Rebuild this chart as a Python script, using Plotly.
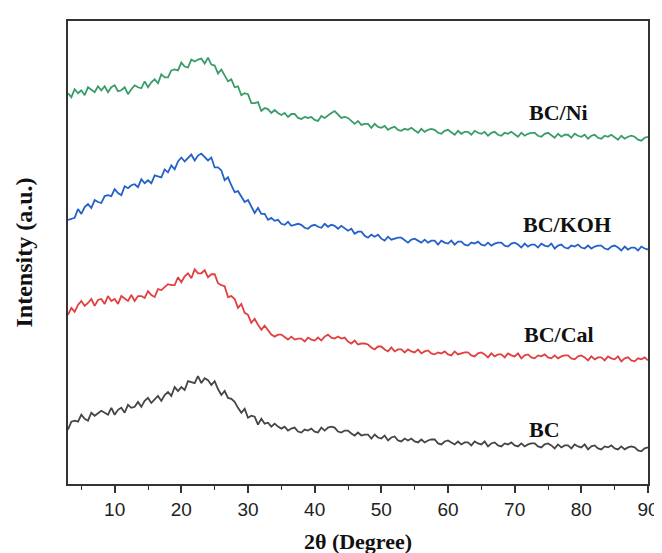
import plotly.graph_objects as go

# 2-theta grid (0.5 degree sampling, 3..90)
two_theta = [3.0 + 0.5 * i for i in range(175)]

bc_ni = [
    395, 391, 399, 395, 398, 393, 401, 398, 396, 402,
    398, 402, 396, 401, 403, 397, 398, 401, 394, 399,
    403, 401, 400, 407, 401, 406, 409, 405, 414, 411,
    411, 418, 419, 418, 426, 422, 421, 429, 427, 429,
    430, 425, 431, 424, 423, 415, 419, 413, 407, 409,
    401, 402, 393, 395, 394, 385, 385, 386, 377, 380,
    379, 375, 378, 375, 373, 375, 371, 374, 374, 370,
    369, 371, 370, 371, 368, 367, 372, 370, 373, 375,
    377, 373, 370, 371, 370, 367, 364, 367, 363, 364,
    364, 360, 364, 361, 360, 362, 358, 360, 361, 358,
    357, 359, 358, 360, 357, 355, 359, 356, 358, 359,
    358, 355, 354, 357, 358, 355, 353, 357, 354, 356,
    356, 353, 357, 355, 354, 356, 352, 355, 356, 353,
    352, 355, 354, 356, 353, 351, 355, 352, 354, 355,
    355, 352, 351, 354, 355, 352, 350, 354, 351, 353,
    353, 350, 354, 352, 351, 353, 349, 352, 353, 350,
    349, 352, 351, 353, 350, 348, 352, 349, 351, 352,
    351, 348, 347, 350, 351,
]

bc_koh = [
    267, 268, 269, 278, 273, 280, 283, 279, 287, 285,
    284, 291, 292, 291, 298, 294, 292, 301, 299, 302,
    303, 300, 308, 304, 307, 304, 312, 311, 310, 318,
    315, 322, 318, 326, 330, 326, 329, 333, 327, 332,
    334, 330, 327, 330, 320, 320, 317, 307, 310, 302,
    295, 296, 291, 285, 287, 280, 274, 279, 273, 273,
    267, 269, 266, 267, 263, 262, 265, 261, 262, 263,
    262, 259, 258, 261, 262, 260, 259, 263, 260, 262,
    261, 258, 261, 258, 256, 258, 253, 255, 255, 251,
    249, 252, 250, 252, 248, 246, 250, 247, 248, 249,
    249, 246, 244, 247, 248, 246, 244, 247, 244, 246,
    246, 242, 246, 244, 243, 246, 242, 245, 245, 242,
    241, 244, 243, 245, 242, 241, 244, 241, 243, 244,
    244, 241, 240, 243, 244, 242, 239, 243, 240, 242,
    242, 239, 243, 241, 240, 243, 238, 241, 242, 239,
    238, 241, 240, 242, 239, 238, 241, 238, 240, 241,
    241, 238, 237, 240, 241, 239, 236, 240, 237, 239,
    239, 236, 240, 238, 237,
]

bc_cal = [
    171, 178, 174, 181, 185, 180, 183, 187, 180, 186,
    187, 182, 190, 185, 187, 182, 190, 187, 185, 191,
    185, 190, 190, 188, 195, 191, 189, 197, 196, 199,
    202, 201, 201, 209, 204, 210, 213, 208, 217, 213,
    213, 216, 209, 212, 212, 203, 201, 200, 189, 190,
    187, 178, 182, 173, 171, 163, 167, 161, 156, 160,
    156, 151, 149, 151, 151, 148, 146, 149, 146, 147,
    147, 144, 148, 146, 145, 148, 145, 149, 151, 148,
    147, 149, 147, 148, 144, 142, 145, 141, 142, 142,
    141, 138, 136, 139, 139, 136, 134, 138, 134, 136,
    136, 133, 136, 134, 133, 136, 132, 134, 135, 132,
    131, 133, 132, 134, 131, 130, 134, 131, 132, 133,
    133, 130, 129, 132, 133, 131, 128, 132, 129, 131,
    131, 128, 132, 130, 129, 132, 127, 130, 131, 128,
    127, 130, 129, 131, 128, 127, 130, 127, 129, 130,
    130, 127, 126, 129, 130, 128, 125, 129, 126, 128,
    128, 125, 129, 127, 126, 129, 124, 127, 128, 125,
    124, 127, 126, 128, 125,
]

bc = [
    55, 63, 64, 63, 70, 66, 64, 72, 69, 72,
    74, 72, 70, 77, 70, 75, 77, 72, 80, 77,
    78, 83, 78, 84, 87, 82, 85, 89, 84, 90,
    93, 89, 98, 94, 98, 95, 104, 103, 102, 109,
    102, 107, 105, 100, 104, 96, 90, 94, 87, 86,
    83, 77, 72, 76, 67, 69, 68, 60, 66, 61,
    62, 58, 61, 58, 56, 58, 54, 56, 57, 53,
    52, 55, 54, 56, 53, 52, 57, 54, 57, 58,
    57, 53, 52, 54, 54, 51, 49, 52, 49, 50,
    50, 46, 50, 47, 46, 49, 44, 47, 48, 44,
    43, 46, 44, 46, 43, 42, 45, 42, 44, 45,
    45, 41, 40, 43, 44, 42, 40, 43, 40, 42,
    42, 39, 43, 41, 40, 43, 38, 41, 42, 39,
    38, 41, 40, 42, 39, 38, 41, 38, 40, 41,
    41, 38, 37, 40, 41, 39, 36, 40, 37, 39,
    39, 36, 40, 38, 37, 40, 35, 38, 39, 36,
    35, 38, 37, 39, 36, 35, 38, 35, 37, 38,
    37, 34, 33, 36, 37,
]

series_names = ["BC", "BC/Cal", "BC/KOH", "BC/Ni"]
series_values = [bc, bc_cal, bc_koh, bc_ni]
series_colors = ["#454545", "#e0403f", "#2461c9", "#3a9d68"]

label_x = [74.5, 76.6, 77.9, 76.6]
label_y = [55, 151, 262, 376]

x_ticks = [10, 20, 30, 40, 50, 60, 70, 80, 90]
x_minor_ticks = [5, 15, 25, 35, 45, 55, 65, 75, 85]

fig = go.Figure()
for name, vals, col in zip(series_names, series_values, series_colors):
    fig.add_trace(go.Scatter(x=two_theta, y=vals, mode="lines", name=name,
                             line=dict(color=col, width=1.8)))

for name, lx, ly in zip(series_names, label_x, label_y):
    fig.add_annotation(x=lx, y=ly, text="<b>%s</b>" % name, showarrow=False,
                       font=dict(family="Liberation Serif", size=22, color="#111"),
                       xanchor="center", yanchor="middle")

fig.update_layout(
    width=662, height=553,
    margin=dict(l=60, r=11, t=11, b=74),
    paper_bgcolor="white", plot_bgcolor="white",
    showlegend=False,
    xaxis=dict(
        range=[3, 90], tickvals=x_ticks, ticks="outside", ticklen=7, tickwidth=1.5,
        tickcolor="#333",
        minor=dict(tickvals=x_minor_ticks, ticks="outside",
                   ticklen=4, tickwidth=1.2, tickcolor="#333"),
        showline=True, linecolor="#333", linewidth=1.8, mirror=True,
        showgrid=False, zeroline=False,
        tickfont=dict(family="Liberation Sans", size=19, color="#222"),
        title=dict(text="<b>2θ (Degree)</b>", standoff=15,
                   font=dict(family="Liberation Serif", size=22, color="#111")),
    ),
    yaxis=dict(
        range=[0, 468], showticklabels=False, ticks="",
        showline=True, linecolor="#333", linewidth=1.8, mirror=True,
        showgrid=False, zeroline=False,
        title=dict(text="<b>Intensity (a.u.)</b>", standoff=27,
                   font=dict(family="Liberation Serif", size=24, color="#111")),
    ),
)

fig.write_html("out.html")
